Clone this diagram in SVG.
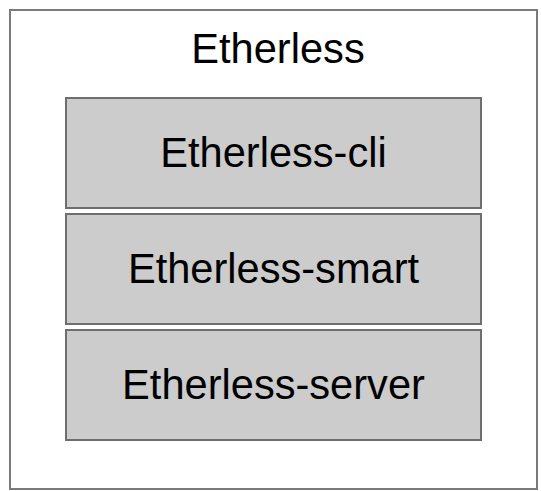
<svg xmlns="http://www.w3.org/2000/svg" width="541" height="491" viewBox="0 0 541 491">
<style>
.outer{fill:#ffffff;stroke:#7a7a7a;stroke-width:2}
.box{fill:#cccccc;stroke:#6e6e6e;stroke-width:2}
.t{font-family:"Liberation Sans",Arial,sans-serif;font-size:41.6px;fill:#000000;text-anchor:middle}
</style>
<rect width="541" height="491" fill="#ffffff"/>
<g id="etherless">
<rect class="outer" x="10" y="10" width="527" height="479"/>
<text class="t" x="278" y="63">Etherless</text>
</g>
<g id="etherless-cli">
<rect class="box" x="66" y="98" width="415" height="110"/>
<text class="t" x="273.5" y="167">Etherless-cli</text>
</g>
<g id="etherless-smart">
<rect class="box" x="66" y="214" width="415" height="110"/>
<text class="t" x="273.5" y="283">Etherless-smart</text>
</g>
<g id="etherless-server">
<rect class="box" x="66" y="330" width="415" height="110"/>
<text class="t" x="273.5" y="399">Etherless-server</text>
</g>
<g id="connectors"></g>
</svg>
